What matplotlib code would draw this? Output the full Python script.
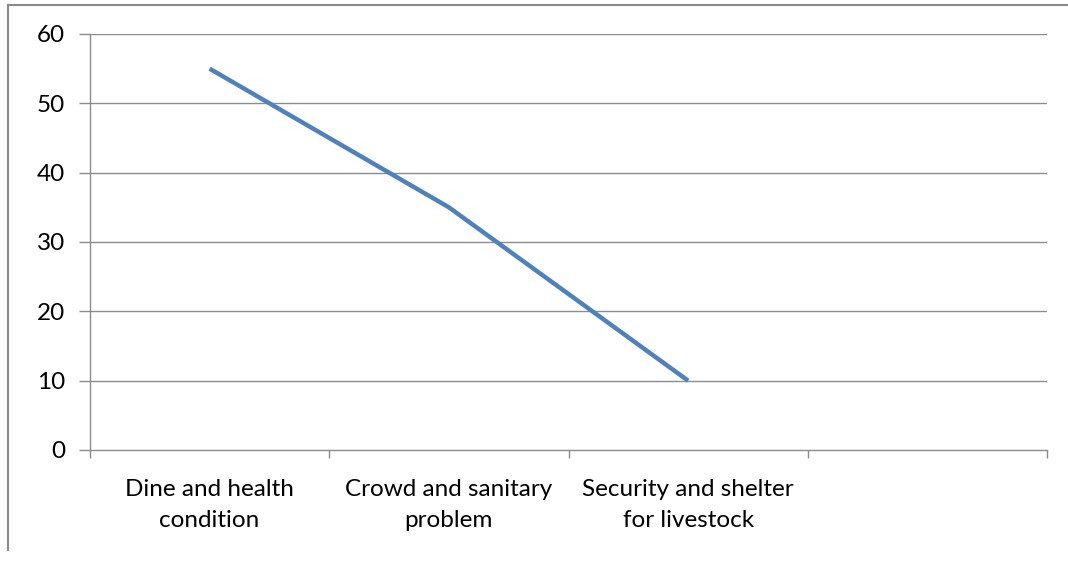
import matplotlib
matplotlib.use("Agg")
import matplotlib.pyplot as plt
from matplotlib.lines import Line2D

categories = ["Dine and health\ncondition", "Crowd and sanitary\nproblem",
              "Security and shelter\nfor livestock", ""]
values = [55, 35, 10]
y_ticks = [0, 10, 20, 30, 40, 50, 60]

W, H = 1068, 563
fig = plt.figure(figsize=(W / 100, H / 100), dpi=100)
plt.rcParams['font.family'] = ['Lato', 'DejaVu Sans']

ax = fig.add_axes([90 / W, (H - 450) / H, (1047 - 90) / W, (450 - 34) / H])

grid_c = "#8c8c8c"
ax.set_ylim(0, 60)
ax.set_xlim(-0.5, len(categories) - 0.5)
ax.set_yticks(y_ticks)
for y in y_ticks[1:]:
    ax.axhline(y, color=grid_c, lw=1.0, zorder=1)

ax.plot(range(len(values)), values, color="#4f81bd", lw=3.2,
        solid_capstyle="butt", zorder=3)

ax.set_xticks(range(len(categories)))
ax.set_xticklabels(categories, fontsize=17.5, color="#000000", linespacing=1.6)
ax.set_xticks([i - 0.5 for i in range(len(categories) + 1)], minor=True)
ax.tick_params(axis="x", which="major", length=0, pad=21)
ax.tick_params(axis="x", which="minor", length=6, color=grid_c, width=1)
ax.tick_params(axis="y", length=8, color=grid_c, width=1, pad=10,
               labelsize=17.5, labelcolor="#000000")

for s in ("top", "right"):
    ax.spines[s].set_visible(False)
for s in ("left", "bottom"):
    ax.spines[s].set_color(grid_c)
    ax.spines[s].set_linewidth(1.0)

# outer chart border (left and top edges)
frame_c = "#8a8a8a"
fig.add_artist(Line2D([8 / W, 8 / W], [1 - 5 / H, 1 - 550 / H],
                      transform=fig.transFigure, color=frame_c, lw=1.5))
fig.add_artist(Line2D([8 / W, 1.0], [1 - 5 / H, 1 - 5 / H],
                      transform=fig.transFigure, color=frame_c, lw=1.5))

fig.savefig("out.png", dpi=100)
